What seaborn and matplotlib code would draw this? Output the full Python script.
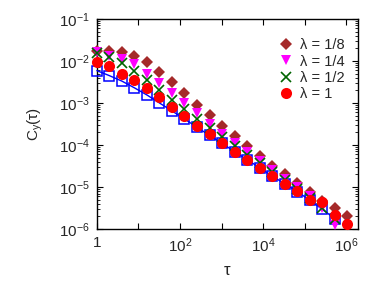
import numpy as np
import pandas as pd
import matplotlib
matplotlib.use("Agg")
import matplotlib.pyplot as plt
import matplotlib.ticker as mticker
import seaborn as sns

# tau = 2^i
tau_exp = list(range(21))
log_c_18 = [-1.77, -1.77, -1.79, -1.89, -2.02, -2.26, -2.50, -2.77, -3.04, -3.29, -3.55,
            -3.79, -4.03, -4.27, -4.50, -4.70, -4.90, -5.12, -5.34, -5.51, -5.68]
log_c_14 = [-1.78, -1.89, -1.95, -2.08, -2.30, -2.52, -2.76, -3.00, -3.25, -3.49, -3.73,
            -3.95, -4.17, -4.39, -4.60, -4.80, -5.00, -5.22, -5.50, -5.90]
log_c_12 = [-1.80, -1.90, -2.06, -2.24, -2.46, -2.68, -2.92, -3.15, -3.39, -3.59, -3.80,
            -4.03, -4.24, -4.44, -4.64, -4.84, -5.04, -5.26, -5.50, -5.75]
log_c_1 = [-2.02, -2.12, -2.30, -2.46, -2.64, -2.85, -3.09, -3.31, -3.54, -3.73, -3.95,
           -4.16, -4.35, -4.55, -4.74, -4.93, -5.10, -5.31, -5.36, -5.66, -5.88]
log_c_sq = [-2.23, -2.35, -2.48, -2.64, -2.81, -3.00, -3.19, -3.38, -3.58, -3.77, -3.96,
            -4.16, -4.35, -4.54, -4.74, -4.92, -5.11, -5.31, -5.53, -5.75]

labels = ["λ = 1/8", "λ = 1/4", "λ = 1/2", "λ = 1"]
xtick_labels = ["1", "", "$10^{2}$", "", "$10^{4}$", "", "$10^{6}$"]
ytick_exps = [-6, -5, -4, -3, -2, -1]

sns.set_style("ticks")
plt.rcParams['font.family'] = ['Liberation Sans', 'DejaVu Sans']
plt.rcParams['mathtext.fontset'] = 'custom'
plt.rcParams['mathtext.rm'] = 'Liberation Sans'
plt.rcParams['mathtext.it'] = 'Liberation Sans:italic'
plt.rcParams['mathtext.default'] = 'regular'

def mk(logs):
    n = len(logs)
    return pd.DataFrame({"tau": [2.0 ** e for e in tau_exp[:n]],
                         "C": [10.0 ** v for v in logs]})

fig = plt.figure(figsize=(3.74, 2.91), dpi=100)
ax = fig.add_axes([0.259, 0.213, 0.698, 0.722])

df_sq = mk(log_c_sq)
sns.lineplot(data=df_sq, x="tau", y="C", ax=ax, color="#0000ff", lw=1.0,
             marker="s", markersize=7.5, markerfacecolor="none",
             markeredgecolor="#0000ff", markeredgewidth=1.1, zorder=3, clip_on=False)

series = [
    (log_c_18, "D", "#a52a2a", 6.2, labels[0]),
    (log_c_14, "v", "#ff00ff", 7.5, labels[1]),
    (log_c_12, "x", "#006400", 7.5, labels[2]),
    (log_c_1, "o", "#ff0000", 8.0, labels[3]),
]
for logs, m, c, ms, lab in series:
    d = mk(logs)
    sns.lineplot(data=d, x="tau", y="C", ax=ax, marker=m, markersize=ms, color=c,
                 linestyle="none", markeredgewidth=(1.2 if m == "x" else 0),
                 markeredgecolor=c, label=lab, zorder=4, clip_on=False)

ax.set_xscale("log")
ax.set_yscale("log")
ax.set_xlim(1, 1.9e6)
ax.set_ylim(1e-6, 1e-1)

ax.xaxis.set_major_locator(mticker.FixedLocator([10.0 ** k for k in range(0, 7)]))
ax.xaxis.set_major_formatter(mticker.FixedFormatter(xtick_labels))
ax.xaxis.set_minor_locator(mticker.NullLocator())
ax.yaxis.set_major_locator(mticker.FixedLocator([10.0 ** k for k in ytick_exps]))
ax.yaxis.set_major_formatter(mticker.FixedFormatter(["$10^{%d}$" % k for k in ytick_exps]))
ax.yaxis.set_minor_locator(mticker.LogLocator(base=10, subs=np.arange(2, 10), numticks=20))
ax.yaxis.set_minor_formatter(mticker.NullFormatter())

ax.tick_params(which="both", direction="in", top=True, right=True, labelsize=11, color="black")
ax.tick_params(which="major", length=4, width=0.8, pad=5)
ax.tick_params(which="minor", length=2, width=0.6)
for sp in ax.spines.values():
    sp.set_linewidth(1.0)
    sp.set_color("black")

ax.set_xlabel("τ", fontsize=12, labelpad=6)
ax.set_ylabel("C$_y$(τ)", fontsize=11, labelpad=10)

leg = ax.legend(loc="upper right", frameon=False, fontsize=10.5, handletextpad=0.5,
                labelspacing=0.15, borderaxespad=0.5, handlelength=1.0,
                bbox_to_anchor=(1.0, 0.97))

fig.savefig("out.png", dpi=100)
